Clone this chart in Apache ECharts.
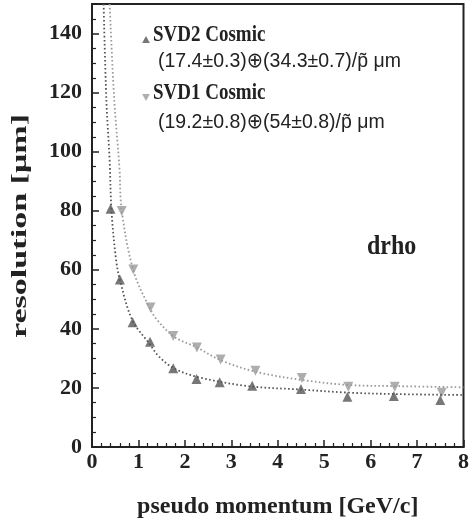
<!DOCTYPE html>
<html>
<head>
<meta charset="utf-8">
<script src="https://cdn.jsdelivr.net/npm/echarts@6/dist/echarts.min.js"></script>
<style>
  html, body { margin: 0; padding: 0; background: #fff; }
  #chart { width: 472px; height: 525px; }
</style>
</head>
<body>
<div id="chart"></div>
<script>
// Measured resolution points (pseudo momentum [GeV/c], resolution [um])
const svd2Momentum = [0.40, 0.60, 0.875, 1.25, 1.75, 2.25, 2.75, 3.45, 4.5, 5.5, 6.5, 7.5];
const svd2Resolution = [80.7, 56.7, 42.2, 35.6, 26.7, 23.0, 21.9, 20.7, 19.6, 17.0, 17.3, 15.9];

const svd1Momentum = [0.64, 0.89, 1.26, 1.75, 2.26, 2.77, 3.52, 4.52, 5.52, 6.52, 7.53];
const svd1Resolution = [79.9, 60.1, 47.2, 37.6, 33.7, 29.6, 25.8, 23.4, 20.4, 20.4, 18.4];

// Fitted resolution curves, sampled along the drawn fit
const svd2FitMomentum = [0.25, 0.31, 0.38, 0.42, 0.52, 0.61, 0.87, 1.23, 1.45, 1.77, 2.30, 3.37, 4.45, 5.53, 6.60, 8.0];
const svd2FitResolution = [150, 117.3, 97, 80, 63.2, 56.0, 42.9, 35.1, 30.5, 26.6, 23.6, 20.6, 19.5, 18.4, 17.9, 17.6];

const svd1FitMomentum = [0.38, 0.48, 0.59, 0.64, 0.89, 1.23, 1.41, 1.77, 2.26, 2.77, 3.52, 4.52, 5.53, 6.60, 8.0];
const svd1FitResolution = [150, 117.3, 94.8, 80.1, 59.8, 47.4, 42.9, 37.3, 33.7, 29.4, 25.5, 22.7, 21.0, 20.6, 20.2];

const seriesNames = ['SVD2 Cosmic', 'SVD1 Cosmic'];
const fitLabels = ['(17.4\u00b10.3)\u2295(34.3\u00b10.7)/p\u0303 \u03bcm', '(19.2\u00b10.8)\u2295(54\u00b10.8)/p\u0303 \u03bcm'];

const xTicks = [0, 1, 2, 3, 4, 5, 6, 7, 8];
const yTicks = [0, 20, 40, 60, 80, 100, 120, 140];

const zip = (xs, ys) => xs.map((x, i) => [x, ys[i]]);

const serif = '"Liberation Serif", "DejaVu Serif", serif';
const sans = '"Liberation Sans", "DejaVu Sans", sans-serif';
const ink = '#222222';
const dark = '#555555';
const light = '#9a9a9a';

const upTriangle = 'path://M5,0 L10,9 L0,9 Z';
const downTriangle = 'path://M0,0 L10,0 L5,9 Z';

const chart = echarts.init(document.getElementById('chart'), null, { renderer: 'canvas' });

chart.setOption({
  animation: false,
  backgroundColor: '#ffffff',
  grid: {
    left: 92, right: 6, top: 4, bottom: 78,
    show: true, borderColor: ink, borderWidth: 2, backgroundColor: 'transparent'
  },
  xAxis: {
    type: 'value', min: xTicks[0], max: xTicks[xTicks.length - 1], interval: 1,
    name: 'pseudo momentum [GeV/c]', nameLocation: 'middle', nameGap: 48,
    nameTextStyle: { fontFamily: serif, fontWeight: 'bold', fontSize: 24, color: ink },
    axisLine: { lineStyle: { color: ink, width: 2 } },
    axisTick: { inside: true, length: 7, lineStyle: { color: ink, width: 1.5 } },
    minorTick: { show: true, splitNumber: 5, length: 4, lineStyle: { color: ink, width: 1.2 } },
    axisLabel: { fontFamily: serif, fontWeight: 'bold', fontSize: 22, color: ink, margin: 4 },
    splitLine: { show: false }
  },
  yAxis: {
    type: 'value', min: yTicks[0], max: 150, interval: 20,
    axisLine: { lineStyle: { color: ink, width: 2 } },
    axisTick: { inside: true, length: 7, lineStyle: { color: ink, width: 1.5 } },
    minorTick: { show: true, splitNumber: 4, length: 4, lineStyle: { color: ink, width: 1.2 } },
    axisLabel: { fontFamily: serif, fontWeight: 'bold', fontSize: 22, color: ink, margin: 10,
      formatter: v => (yTicks.indexOf(v) >= 0 ? String(v) : '') },
    splitLine: { show: false }
  },
  // legend markers only; the entry names are set as tall text below
  legend: [
    { data: [{ name: seriesNames[0], icon: upTriangle }], left: 137, top: 31,
      itemWidth: 8, itemHeight: 7, formatter: () => '', selectedMode: false },
    { data: [{ name: seriesNames[1], icon: downTriangle }], left: 137, top: 89,
      itemWidth: 8, itemHeight: 7, formatter: () => '', selectedMode: false }
  ],
  graphic: [
    // vertical axis title, set wide along its baseline
    { type: 'text', x: 20, y: 226, rotation: Math.PI / 2, scaleX: 1.55,
      style: { text: 'resolution [\u03bcm]', font: 'bold 22px ' + serif, fill: ink,
        textAlign: 'center', textVerticalAlign: 'middle' } },
    { type: 'text', x: 153, y: 35, scaleY: 1.25,
      style: { text: seriesNames[0], font: 'bold 19px ' + serif, fill: ink,
        textAlign: 'left', textVerticalAlign: 'middle' } },
    { type: 'text', x: 158, y: 61, scaleY: 1.08,
      style: { text: fitLabels[0], font: '19.5px ' + sans, fill: ink,
        textAlign: 'left', textVerticalAlign: 'middle' } },
    { type: 'text', x: 153, y: 93, scaleY: 1.25,
      style: { text: seriesNames[1], font: 'bold 19px ' + serif, fill: ink,
        textAlign: 'left', textVerticalAlign: 'middle' } },
    { type: 'text', x: 158, y: 122, scaleY: 1.08,
      style: { text: fitLabels[1], font: '19.5px ' + sans, fill: ink,
        textAlign: 'left', textVerticalAlign: 'middle' } },
    { type: 'text', x: 367, y: 247, scaleY: 1.1,
      style: { text: 'drho', font: 'bold 24px ' + serif, fill: ink,
        textAlign: 'left', textVerticalAlign: 'middle' } }
  ],
  series: [
    {
      name: 'SVD2 fit', type: 'line', data: zip(svd2FitMomentum, svd2FitResolution),
      smooth: 0.35, showSymbol: false, silent: true, clip: true,
      lineStyle: { color: dark, width: 1.8, type: [1.6, 2.4] }
    },
    {
      name: 'SVD1 fit', type: 'line', data: zip(svd1FitMomentum, svd1FitResolution),
      smooth: 0.35, showSymbol: false, silent: true, clip: true,
      lineStyle: { color: light, width: 1.8, type: [1.6, 2.4] }
    },
    {
      name: seriesNames[0], type: 'scatter', data: zip(svd2Momentum, svd2Resolution),
      symbol: 'triangle', symbolSize: 10, itemStyle: { color: dark }
    },
    {
      name: seriesNames[1], type: 'scatter', data: zip(svd1Momentum, svd1Resolution),
      symbol: 'triangle', symbolRotate: 180, symbolSize: 10, itemStyle: { color: light }
    }
  ]
});
</script>
</body>
</html>
